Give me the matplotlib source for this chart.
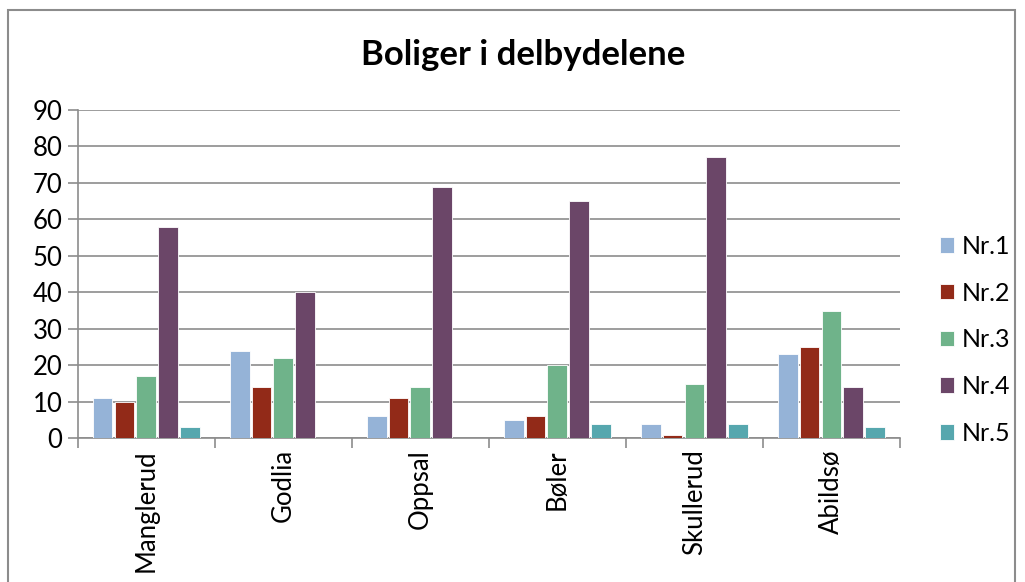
import numpy as np
import matplotlib
matplotlib.use("Agg")
import matplotlib.pyplot as plt
from matplotlib.patches import Rectangle

plt.rcParams['font.family'] = ['Lato', 'DejaVu Sans']

# data
categories = ['Manglerud', 'Godlia', 'Oppsal', 'Bøler', 'Skullerud', 'Abildsø']
series_names = ['Nr.1', 'Nr.2', 'Nr.3', 'Nr.4', 'Nr.5']
nr1 = [11, 24, 6, 5, 4, 23]
nr2 = [10, 14, 11, 6, 1, 25]
nr3 = [17, 22, 14, 20, 15, 35]
nr4 = [58, 40, 69, 65, 77, 14]
nr5 = [3, 0, 0, 4, 4, 3]
colors = ['#95B3D7', '#922A18', '#6FB38A', '#6B4668', '#56A7AE']

fig = plt.figure(figsize=(10.25, 5.82), dpi=100)
ax = fig.add_axes([0.076, 0.247, 0.802, 0.564])

x = np.arange(len(categories))
step = 0.16
width = 0.145
for i, (vals, name) in enumerate(zip([nr1, nr2, nr3, nr4, nr5], series_names)):
    ax.bar(x + (i - 2) * step, vals, width, color=colors[i], label=name,
           edgecolor='white', linewidth=0.6, zorder=3)

ax.set_xlim(-0.5, len(categories) - 0.5)
ax.set_ylim(0, 90)
ax.set_yticks(range(0, 91, 10))
ax.yaxis.grid(True, color='#8C8C8C', linewidth=1.2, zorder=0)
ax.set_axisbelow(True)

# category labels at centre, tick marks at boundaries
ax.set_xticks(x)
ax.set_xticklabels(categories, rotation=90, fontsize=18.5)
ax.set_xticks(np.arange(-0.5, len(categories)), minor=True)
ax.tick_params(axis='x', which='major', length=0, pad=8)
ax.tick_params(axis='x', which='minor', length=7, color='#8C8C8C', width=1.2)
ax.tick_params(axis='y', length=7, color='#8C8C8C', width=1.2, labelsize=18.5, pad=4)

for s in ['top', 'right']:
    ax.spines[s].set_visible(False)
for s in ['left', 'bottom']:
    ax.spines[s].set_color('#8C8C8C')
    ax.spines[s].set_linewidth(1.2)

ax.legend(loc='center left', bbox_to_anchor=(1.049, 0.30), frameon=False,
          fontsize=18, handlelength=0.57, handleheight=0.57, labelspacing=0.95,
          handletextpad=0.3, borderpad=0, borderaxespad=0)

fig.text(0.51, 0.905, 'Boliger i delbydelene', ha='center', va='center',
         fontsize=25, fontweight='bold')

fig.patches.append(Rectangle((0.008, -0.01), 0.982, 0.993, transform=fig.transFigure,
                             fill=False, edgecolor='#8C8C8C', linewidth=1.5))

plt.savefig('out.png', dpi=100)
